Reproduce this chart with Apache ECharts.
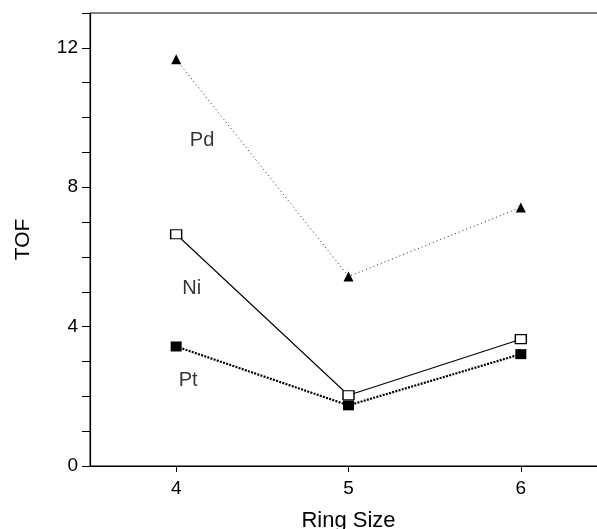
<!DOCTYPE html>
<html>
<head>
<meta charset="utf-8">
<script src="https://cdn.jsdelivr.net/npm/echarts@6/dist/echarts.min.js"></script>
<style>html,body{margin:0;padding:0;background:#fff;}#c{width:597px;height:529px;}</style>
</head>
<body>
<div id="c"></div>
<script>
const ringSizes = [4, 5, 6];
const pd = [11.67, 5.44, 7.42];
const ni = [6.65, 2.03, 3.64];
const pt = [3.43, 1.74, 3.21];
const xTicks = [4, 5, 6];
const yLabelTicks = [0, 4, 8, 12];
const annotNames = ['Pd', 'Ni', 'Pt'];
const annotX = [4.15, 4.09, 4.07];
const annotY = [9.34, 5.10, 2.46];

const font = 'Liberation Sans, Arial, Helvetica, sans-serif';
const pairs = (ys) => ringSizes.map((x, i) => [x, ys[i]]);

const chart = echarts.init(document.getElementById('c'));
chart.setOption({
  animation: false,
  backgroundColor: '#fff',
  grid: {
    left: 90, top: 13, right: -10, bottom: 63,
    outerBoundsMode: 'none', containLabel: false,
    show: true, borderColor: '#000', borderWidth: 1, backgroundColor: 'transparent'
  },
  xAxis: {
    type: 'value', min: 3.5, max: 6.5,
    name: 'Ring Size', nameLocation: 'middle', nameGap: 44,
    nameTextStyle: { fontFamily: font, fontSize: 22, color: '#000' },
    axisLine: { show: true, lineStyle: { color: '#000', width: 1.2 } },
    axisTick: { show: true, customValues: xTicks, length: 6, lineStyle: { color: '#000' } },
    axisLabel: { customValues: xTicks, margin: 13, fontFamily: font, fontSize: 19, color: '#000' },
    splitLine: { show: false }
  },
  yAxis: {
    type: 'value', min: 0, max: 13, interval: 1,
    name: 'TOF', nameLocation: 'middle', nameGap: 56,
    nameTextStyle: { fontFamily: font, fontSize: 21, color: '#000' },
    axisLine: { show: true, lineStyle: { color: '#000', width: 1.2 } },
    axisTick: { show: true, length: 8, lineStyle: { color: '#000' } },
    axisLabel: {
      margin: 12, fontFamily: font, fontSize: 19, color: '#000',
      formatter: (v) => (yLabelTicks.indexOf(v) >= 0 ? String(v) : '')
    },
    splitLine: { show: false }
  },
  series: [
    {
      name: 'Pd', type: 'line', data: pairs(pd),
      symbol: 'triangle', symbolSize: 10,
      itemStyle: { color: '#000' },
      lineStyle: { color: '#222', width: 1, type: [1, 3] }
    },
    {
      name: 'Ni', type: 'line', data: pairs(ni),
      symbol: 'rect', symbolSize: [11, 9],
      itemStyle: { color: '#fff', borderColor: '#000', borderWidth: 1.3 },
      lineStyle: { color: '#000', width: 1.1, type: 'solid' }
    },
    {
      name: 'Pt', type: 'line', data: pairs(pt),
      symbol: 'rect', symbolSize: [11, 10],
      itemStyle: { color: '#000' },
      lineStyle: { color: '#000', width: 2.2, type: [2, 1.3] }
    },
    {
      name: 'labels', type: 'scatter', symbolSize: 0, silent: true,
      data: annotNames.map((n, i) => ({ name: n, value: [annotX[i], annotY[i]] })),
      label: { show: true, position: 'inside', formatter: (p) => p.name, fontFamily: font, fontSize: 20, color: '#000' }
    }
  ]
});
</script>
</body>
</html>
